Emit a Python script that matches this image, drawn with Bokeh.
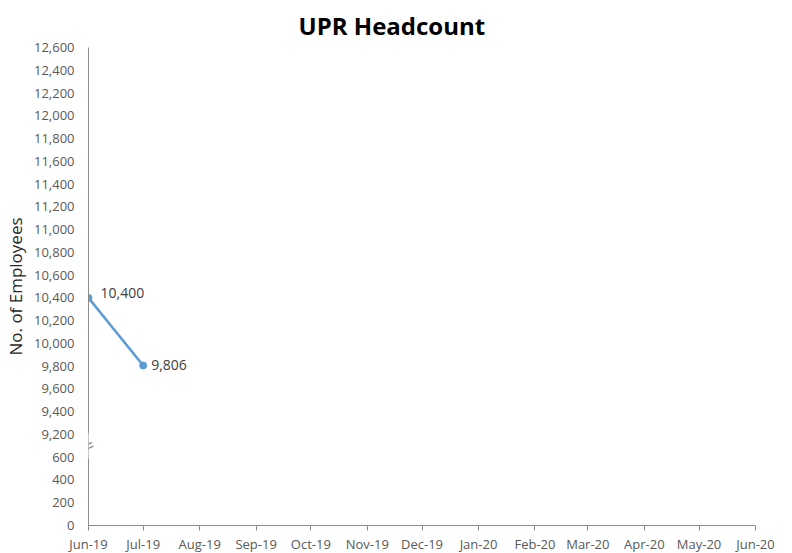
from datetime import datetime
from bokeh.plotting import figure
from bokeh.models import (FixedTicker, DatetimeTickFormatter, Range1d, Label,
                          ColumnDataSource)
from bokeh.core.properties import value
from bokeh.embed import file_html
from bokeh.resources import INLINE

# ---- data ----
months = ["2019-06-01", "2019-07-01", "2019-08-01", "2019-09-01", "2019-10-01",
          "2019-11-01", "2019-12-01", "2020-01-01", "2020-02-01", "2020-03-01",
          "2020-04-01", "2020-05-01", "2020-06-01"]
data_months = ["2019-06-01", "2019-07-01"]
headcount = [10400, 9806]
label_text = ["10,400", "9,806"]
low_ticks = [0, 200, 400, 600]
high_ticks = list(range(9200, 12601, 200))

# broken axis mapping: values above the break are shifted down
BREAK_LOW, BREAK_HIGH = 600, 9200
GAP = 200


def ymap(v):
    return v if v <= BREAK_LOW else v - BREAK_HIGH + BREAK_LOW + GAP


def ms(d):
    return datetime.strptime(d, "%Y-%m-%d").timestamp() * 1000.0


month_ms = [ms(d) for d in months]
xs = [datetime.strptime(d, "%Y-%m-%d") for d in data_months]
ys = [ymap(v) for v in headcount]

FONT = "Open Sans"
TICK_COLOR = "#595959"
AXIS_COLOR = "#8C8C8C"

p = figure(frame_width=667, frame_height=478, x_axis_type="datetime",
           output_backend="svg", toolbar_location=None,
           min_border_left=81, min_border_right=28,
           min_border_top=44, min_border_bottom=0)
p.x_range = Range1d(month_ms[0], month_ms[-1])
p.y_range = Range1d(0, ymap(high_ticks[-1]))

p.outline_line_color = None
p.grid.visible = False
p.background_fill_color = "white"
p.border_fill_color = "white"

p.title.text = "UPR Headcount"
p.title.text_font = FONT
p.title.text_font_size = "24px"
p.title.text_font_style = "bold"
p.title.text_color = "#000000"
p.title.align = "left"
p.title.offset = 210
p.title.standoff = 12

# x axis
p.xaxis.ticker = FixedTicker(ticks=month_ms)
fmt = "%b-%y"
p.xaxis.formatter = DatetimeTickFormatter(
    milliseconds=fmt, seconds=fmt, minsec=fmt, minutes=fmt, hourmin=fmt,
    hours=fmt, days=fmt, months=fmt, years=fmt)
p.xaxis.minor_tick_line_color = None
p.xaxis.major_tick_in = 0
p.xaxis.major_tick_out = 5
p.xaxis.major_tick_line_color = AXIS_COLOR
p.xaxis.axis_line_color = AXIS_COLOR
p.xaxis.major_label_text_font = FONT
p.xaxis.major_label_text_font_size = "13px"
p.xaxis.major_label_text_color = TICK_COLOR
p.xaxis.major_label_standoff = 4

# y axis
y_ticks = [ymap(v) for v in low_ticks + high_ticks]
p.yaxis.ticker = FixedTicker(ticks=y_ticks)
p.yaxis.major_label_overrides = {ymap(v): f"{v:,}" for v in low_ticks + high_ticks}
p.yaxis.minor_tick_line_color = None
p.yaxis.major_tick_line_color = None
p.yaxis.axis_line_color = AXIS_COLOR
p.yaxis.major_label_text_font = FONT
p.yaxis.major_label_text_font_size = "13px"
p.yaxis.major_label_text_color = TICK_COLOR
p.yaxis.major_label_standoff = 8
p.yaxis.axis_label = "No. of Employees"
p.yaxis.axis_label_text_font = FONT
p.yaxis.axis_label_text_font_size = "17px"
p.yaxis.axis_label_text_font_style = "normal"
p.yaxis.axis_label_text_color = "#262626"
p.yaxis.axis_label_standoff = 4

# break marks on the y axis
p.add_layout(Label(x=month_ms[0], y=(BREAK_LOW + ymap(BREAK_HIGH)) / 2,
                   text="=", angle=0.45, text_align="center",
                   text_baseline="middle", text_font=FONT,
                   text_font_size="20px", text_color=AXIS_COLOR,
                   background_fill_color="white", background_fill_alpha=1.0))

# series
src = ColumnDataSource(dict(x=xs, y=ys, label=label_text,
                            dx=[12, 8], dy=[-5, 0]))
p.line("x", "y", source=src, line_color="#5B9BD5", line_width=2.5)
p.scatter("x", "y", source=src, size=7, fill_color="#5B9BD5",
          line_color="#5B9BD5")
p.text("x", "y", text="label", source=src, x_offset="dx", y_offset="dy",
       text_font=value(FONT), text_font_size="14px", text_color="#404040",
       text_align="left", text_baseline="middle")

open("out.html", "w").write(file_html(p, INLINE))
